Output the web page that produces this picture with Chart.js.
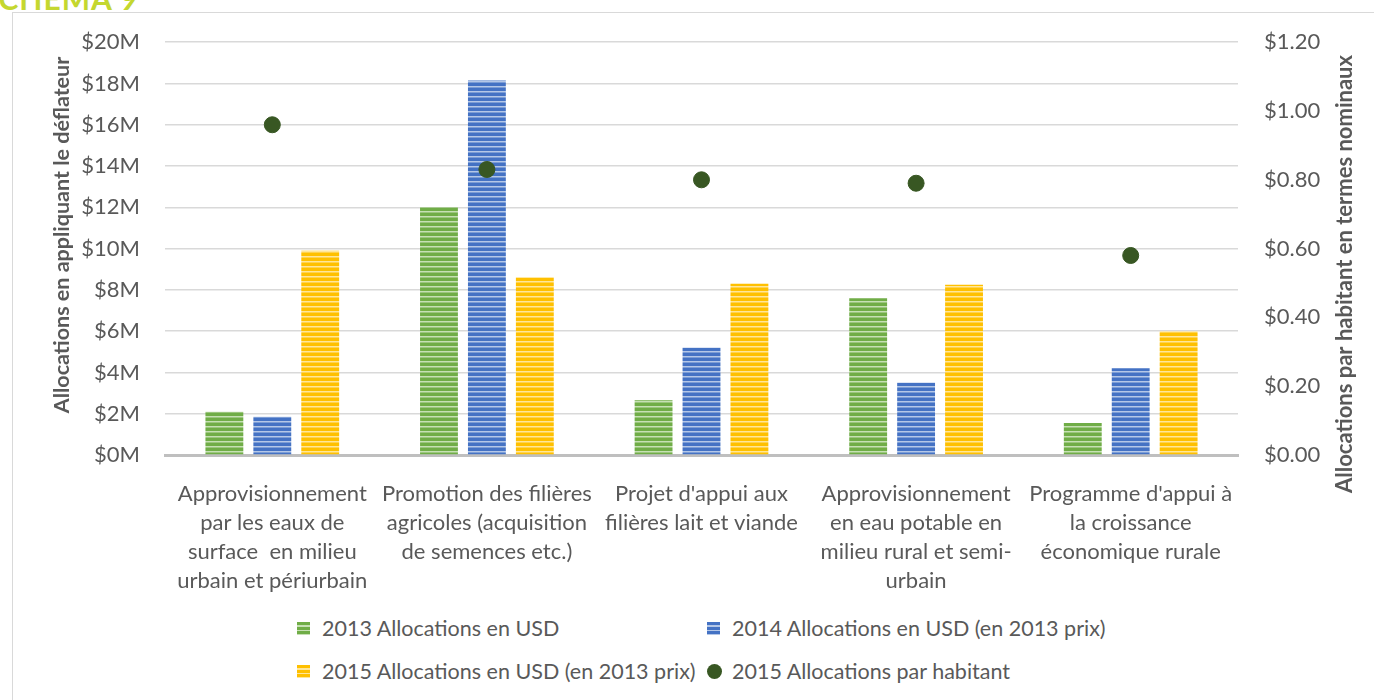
<!DOCTYPE html>
<html>
<head>
<meta charset="utf-8">
<script src="https://cdn.jsdelivr.net/npm/chart.js@4"></script>
<style>
  body{margin:0;background:#fff;width:1374px;height:700px;overflow:hidden;position:relative;font-family:Lato,"Open Sans",sans-serif;}
  #title{position:absolute;left:-19px;top:-20px;font-size:30px;font-weight:bold;color:#C4D72F;letter-spacing:1px;}
  #frame{position:absolute;left:12px;top:12px;width:1370px;height:700px;border:1px solid #D9D9D9;box-sizing:border-box;}
  #box{position:absolute;left:12px;top:3px;width:1362px;height:597px;}
  .legend{position:absolute;font-size:21.5px;color:#595959;white-space:nowrap;line-height:24px;}
  .sw{position:absolute;width:13px;height:13px;}
</style>
</head>
<body>
<div id="title">SCHÉMA 9</div>
<div id="frame"></div>
<div id="box"><canvas id="chart"></canvas></div>
<div id="legend"></div>
<script>
// categories (multi-line labels as in the original)
const categories = [
    ["Approvisionnement","par les eaux de","surface  en milieu","urbain et périurbain"],
    ["Promotion des filières","agricoles (acquisition","de semences etc.)"],
    ["Projet d'appui aux","filières lait et viande"],
    ["Approvisionnement","en eau potable en","milieu rural et semi-","urbain"],
    ["Programme d'appui à","la croissance","économique rurale"]
];
// millions of USD
const alloc2013 = [2.1, 12.0, 2.65, 7.6, 1.55];
const alloc2014 = [1.85, 18.15, 5.2, 3.5, 4.2];
const alloc2015 = [9.9, 8.6, 8.3, 8.25, 6.0];
// USD per inhabitant
const perHab2015 = [0.96, 0.83, 0.80, 0.79, 0.58];

const seriesNames = [
    "2013 Allocations en USD",
    "2014 Allocations en USD (en 2013 prix)",
    "2015 Allocations en USD (en 2013 prix)",
    "2015 Allocations par habitant"
];
const leftTitle = "Allocations en appliquant le déflateur";
const rightTitle = "Allocations par habitant en termes nominaux";

const GREY = "#595959";

let stripes = function(dark, light){
    //horizontal striped fill like the excel pattern
    let c = document.createElement("canvas");
    c.width = 4; c.height = 5;
    let g = c.getContext("2d");
    g.fillStyle = dark; g.fillRect(0,0,4,5);
    g.fillStyle = light; g.fillRect(0,3,4,1.5);
    return g.createPattern(c, "repeat");
};

// axis titles both read bottom-to-top in the original (chart.js turns the right one the other way)
let vText = function(c, text, x, y, size){
    c.save();
    c.translate(x, y);
    c.rotate(-Math.PI / 2);
    c.font = "bold " + size + "px Lato";
    c.fillStyle = GREY;
    c.textAlign = "center";
    c.textBaseline = "middle";
    c.fillText(text, 0, 0);
    c.restore();
};
const axisTitlePlugin = {
    id: "axisTitles",
    afterDraw(chart){
        // canvas coords = page coords - (12, 3)
        vText(chart.ctx, leftTitle, 50, 232, 21.5);
        vText(chart.ctx, rightTitle, 1333, 271, 22);
    }
};

const ctx = document.getElementById("chart").getContext("2d");
const green = stripes("#70AD47", "#C6E0B4");
const blue = stripes("#4472C4", "#B4C7E7");
const yellow = stripes("#FFC000", "#FFE699");

new Chart(ctx, {
    data: {
        labels: categories,
        datasets: [
            {type:"line", label: seriesNames[3], data: perHab2015, yAxisID:"y2", showLine:false,
             pointRadius:8, pointHoverRadius:8, pointBackgroundColor:"#385723", pointBorderColor:"#385723", order:0},
            {type:"bar", label: seriesNames[0], data: alloc2013, yAxisID:"y", backgroundColor: green, order:1},
            {type:"bar", label: seriesNames[1], data: alloc2014, yAxisID:"y", backgroundColor: blue, order:1},
            {type:"bar", label: seriesNames[2], data: alloc2015, yAxisID:"y", backgroundColor: yellow, order:1}
        ]
    },
    plugins: [axisTitlePlugin],
    options: {
        responsive: true,
        maintainAspectRatio: false,
        animation: false,
        layout: {padding: {top: 21, bottom: 0, left: 0, right: 0}},
        datasets: {bar: {categoryPercentage: 0.67, barPercentage: 0.79}},
        plugins: {legend: {display: false}, tooltip: {enabled: false}},
        scales: {
            x: {
                grid: {display: false, drawTicks: false},
                border: {color: "#BFBFBF", width: 3},
                ticks: {color: GREY, font: {family: "Lato", size: 22, lineHeight: 1.32}, padding: 24, maxRotation: 0, autoSkip: false},
                afterFit: function(scale){ scale.height = 145; }
            },
            y: {
                position: "left",
                min: 0, max: 20,
                ticks: {stepSize: 2, color: GREY, padding: 25, font: {family: "Lato", size: 22},
                        callback: v => "$" + v + "M"},
                grid: {color: "#D9D9D9", lineWidth: 1.5, drawTicks: false},
                border: {display: false},
                afterFit: function(scale){ scale.width = 153; }
            },
            y2: {
                position: "right",
                min: 0, max: 1.2,
                ticks: {stepSize: 0.2, color: GREY, padding: 26, font: {family: "Lato", size: 22},
                        callback: v => "$" + v.toFixed(2)},
                grid: {display: false, drawTicks: false},
                border: {display: false},
                afterFit: function(scale){ scale.width = 136; }
            }
        }
    }
});

// legend laid out in two rows / two columns like the original
let legendItems = [
    {name: seriesNames[0], x: 297, y: 628, css: "repeating-linear-gradient(#70AD47 0 3px,#C6E0B4 3px 4.5px)"},
    {name: seriesNames[1], x: 707, y: 628, css: "repeating-linear-gradient(#4472C4 0 3px,#B4C7E7 3px 4.5px)"},
    {name: seriesNames[2], x: 297, y: 671, css: "repeating-linear-gradient(#FFC000 0 3px,#FFE699 3px 4.5px)"},
    {name: seriesNames[3], x: 707, y: 671, css: "#385723", dot: true}
];
let html = "";
for(let it of legendItems){
    let r = it.dot ? "border-radius:50%;width:15px;height:15px;" : "";
    let top = it.dot ? it.y - 7 : it.y - 6;
    html += `<div class="sw" style="left:${it.x}px;top:${top}px;background:${it.css};${r}"></div>`;
    html += `<div class="legend" style="left:${it.x+25}px;top:${it.y-12}px">${it.name}</div>`;
}
document.getElementById("legend").innerHTML = html;
</script>
</body>
</html>
